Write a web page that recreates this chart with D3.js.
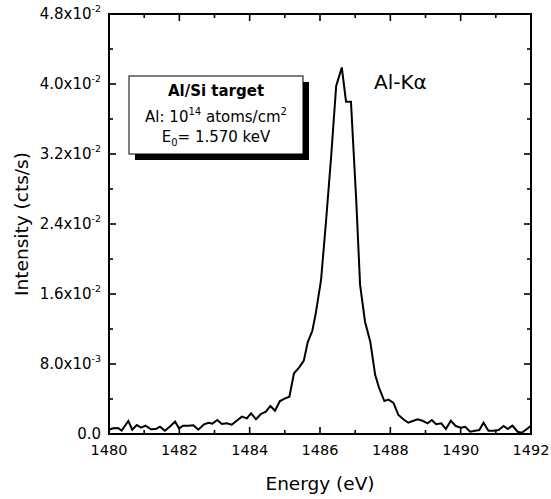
<!DOCTYPE html>
<html>
<head>
<meta charset="utf-8">
<script src="https://cdn.jsdelivr.net/npm/d3@7"></script>
<style>
  body { margin: 0; background: #fff; }
  svg { display: block; font-family: "DejaVu Sans", Verdana, sans-serif; }
</style>
</head>
<body>
<svg id="chart" width="551" height="499"></svg>
<script>
// spectrum
const energy = [
  1480.00, 1480.12, 1480.26, 1480.36, 1480.55, 1480.66, 1480.79, 1480.91, 1481.04, 1481.19,
  1481.33, 1481.45, 1481.59, 1481.74, 1481.88, 1481.99, 1482.11, 1482.26, 1482.40, 1482.54,
  1482.70, 1482.83, 1482.94, 1483.08, 1483.21, 1483.35, 1483.49, 1483.63, 1483.78, 1483.92,
  1484.04, 1484.18, 1484.32, 1484.46, 1484.59, 1484.72, 1484.86, 1485.01, 1485.13, 1485.26,
  1485.41, 1485.54, 1485.65, 1485.78, 1485.88, 1486.03, 1486.17, 1486.32, 1486.46, 1486.62,
  1486.74, 1486.88, 1487.03, 1487.14, 1487.28, 1487.43, 1487.57, 1487.68, 1487.83, 1487.95,
  1488.09, 1488.23, 1488.37, 1488.51, 1488.66, 1488.78, 1488.91, 1489.06, 1489.18, 1489.30,
  1489.45, 1489.58, 1489.72, 1489.86, 1490.01, 1490.13, 1490.27, 1490.41, 1490.53, 1490.65,
  1490.79, 1490.93, 1491.08, 1491.22, 1491.34, 1491.47, 1491.62, 1491.74, 1491.88, 1492.00
];
const intensity = [
  0.00049, 0.00065, 0.00069, 0.00038, 0.00149, 0.00049, 0.00103, 0.00072, 0.00095, 0.00054,
  0.00057, 0.00083, 0.00038, 0.00088, 0.00141, 0.00065, 0.00095, 0.00095, 0.00099, 0.00049,
  0.00111, 0.00129, 0.00118, 0.00160, 0.00114, 0.00122, 0.00106, 0.00152, 0.00198, 0.00179,
  0.00237, 0.00168, 0.00229, 0.00255, 0.00320, 0.00266, 0.00377, 0.00408, 0.00426, 0.00694,
  0.00762, 0.00838, 0.01048, 0.01177, 0.01379, 0.01760, 0.02423, 0.03189, 0.03977, 0.04189,
  0.03798, 0.03798, 0.02674, 0.01703, 0.01283, 0.01055, 0.00674, 0.00526, 0.00377, 0.00393,
  0.00354, 0.00217, 0.00168, 0.00129, 0.00152, 0.00168, 0.00152, 0.00122, 0.00160, 0.00111,
  0.00122, 0.00057, 0.00152, 0.00091, 0.00072, 0.00083, 0.00026, 0.00038, 0.00046, 0.00129,
  0.00038, 0.00038, 0.00046, 0.00091, 0.00057, 0.00095, 0.00026, 0.00015, 0.00057, 0.00095
];

const xTicks = [1480, 1482, 1484, 1486, 1488, 1490, 1492];
const xMinor = [1481, 1483, 1485, 1487, 1489, 1491];
const yTicks = [0, 0.008, 0.016, 0.024, 0.032, 0.040, 0.048];
const yMinor = [0.004, 0.012, 0.020, 0.028, 0.036, 0.044];
const yTickLabels = [["0.0", ""], ["8.0x10", "-3"], ["1.6x10", "-2"], ["2.4x10", "-2"],
                     ["3.2x10", "-2"], ["4.0x10", "-2"], ["4.8x10", "-2"]];

const svg = d3.select("#chart");
const plot = { left: 109, right: 531, top: 14, bottom: 434 };

const x = d3.scaleLinear().domain([1480, 1492]).range([plot.left, plot.right]);
const y = d3.scaleLinear().domain([0, 0.048]).range([plot.bottom, plot.top]);

// ticks, pointing inward on all four sides
const tickG = svg.append("g").attr("stroke", "#000").attr("stroke-width", 1.6);
const majorLen = 7, minorLen = 4;
function xTick(v, len) {
  tickG.append("line").attr("x1", x(v)).attr("x2", x(v)).attr("y1", plot.bottom).attr("y2", plot.bottom - len);
  tickG.append("line").attr("x1", x(v)).attr("x2", x(v)).attr("y1", plot.top).attr("y2", plot.top + len);
}
function yTick(v, len) {
  tickG.append("line").attr("y1", y(v)).attr("y2", y(v)).attr("x1", plot.left).attr("x2", plot.left + len);
  tickG.append("line").attr("y1", y(v)).attr("y2", y(v)).attr("x1", plot.right).attr("x2", plot.right - len);
}
xTicks.forEach(v => xTick(v, majorLen));
xMinor.forEach(v => xTick(v, minorLen));
yTicks.forEach(v => yTick(v, majorLen));
yMinor.forEach(v => yTick(v, minorLen));

// data line
const line = d3.line().x((d, i) => x(energy[i])).y(d => y(d));
svg.append("path")
  .datum(intensity)
  .attr("d", line)
  .attr("fill", "none")
  .attr("stroke", "#000")
  .attr("stroke-width", 2)
  .attr("stroke-linejoin", "miter");

// frame
svg.append("rect")
  .attr("x", plot.left).attr("y", plot.top)
  .attr("width", plot.right - plot.left).attr("height", plot.bottom - plot.top)
  .attr("fill", "none").attr("stroke", "#000").attr("stroke-width", 2);

// x tick labels
svg.append("g").selectAll("text")
  .data(xTicks)
  .join("text")
  .attr("x", d => x(d))
  .attr("y", plot.bottom + 21)
  .attr("text-anchor", "middle")
  .attr("font-size", 14.5)
  .text(d => d);

// y tick labels with superscript exponent
const yl = svg.append("g").selectAll("text")
  .data(yTicks)
  .join("text")
  .attr("x", plot.left - 8)
  .attr("y", d => y(d) + 5)
  .attr("text-anchor", "end")
  .attr("font-size", 15);
yl.append("tspan").text((d, i) => yTickLabels[i][0]);
yl.append("tspan")
  .attr("font-size", 9.5)
  .attr("dy", -7)
  .text((d, i) => yTickLabels[i][1]);

// axis titles
svg.append("text")
  .attr("x", (plot.left + plot.right) / 2)
  .attr("y", 490)
  .attr("text-anchor", "middle")
  .attr("font-size", 18.5)
  .text("Energy (eV)");

svg.append("text")
  .attr("transform", `translate(28,${(plot.top + plot.bottom) / 2}) rotate(-90)`)
  .attr("text-anchor", "middle")
  .attr("font-size", 18.5)
  .text("Intensity (cts/s)");

// peak label
svg.append("text")
  .attr("x", 374)
  .attr("y", 89)
  .attr("font-size", 20)
  .text("Al-K\u03b1");

// legend box with drop shadow
const box = { x: 129, y: 76, w: 174, h: 78 };
svg.append("rect")
  .attr("x", box.x + 6).attr("y", box.y + 6)
  .attr("width", box.w).attr("height", box.h)
  .attr("fill", "#000");
svg.append("rect")
  .attr("x", box.x).attr("y", box.y)
  .attr("width", box.w).attr("height", box.h)
  .attr("fill", "#fff").attr("stroke", "#000").attr("stroke-width", 1);

const cx = box.x + box.w / 2;
svg.append("text")
  .attr("x", cx).attr("y", 96)
  .attr("text-anchor", "middle")
  .attr("font-size", 15)
  .attr("font-weight", "bold")
  .text("Al/Si target");

const t2 = svg.append("text")
  .attr("x", cx).attr("y", 122)
  .attr("text-anchor", "middle")
  .attr("font-size", 15);
t2.append("tspan").text("Al: 10");
t2.append("tspan").attr("font-size", 10).attr("dy", -7).text("14");
t2.append("tspan").attr("dy", 7).text(" atoms/cm");
t2.append("tspan").attr("font-size", 10).attr("dy", -7).text("2");

const t3 = svg.append("text")
  .attr("x", cx).attr("y", 142)
  .attr("text-anchor", "middle")
  .attr("font-size", 15);
t3.append("tspan").text("E");
t3.append("tspan").attr("font-size", 10).attr("dy", 4).text("0");
t3.append("tspan").attr("dy", -4).text("= 1.570 keV");
</script>
</body>
</html>
